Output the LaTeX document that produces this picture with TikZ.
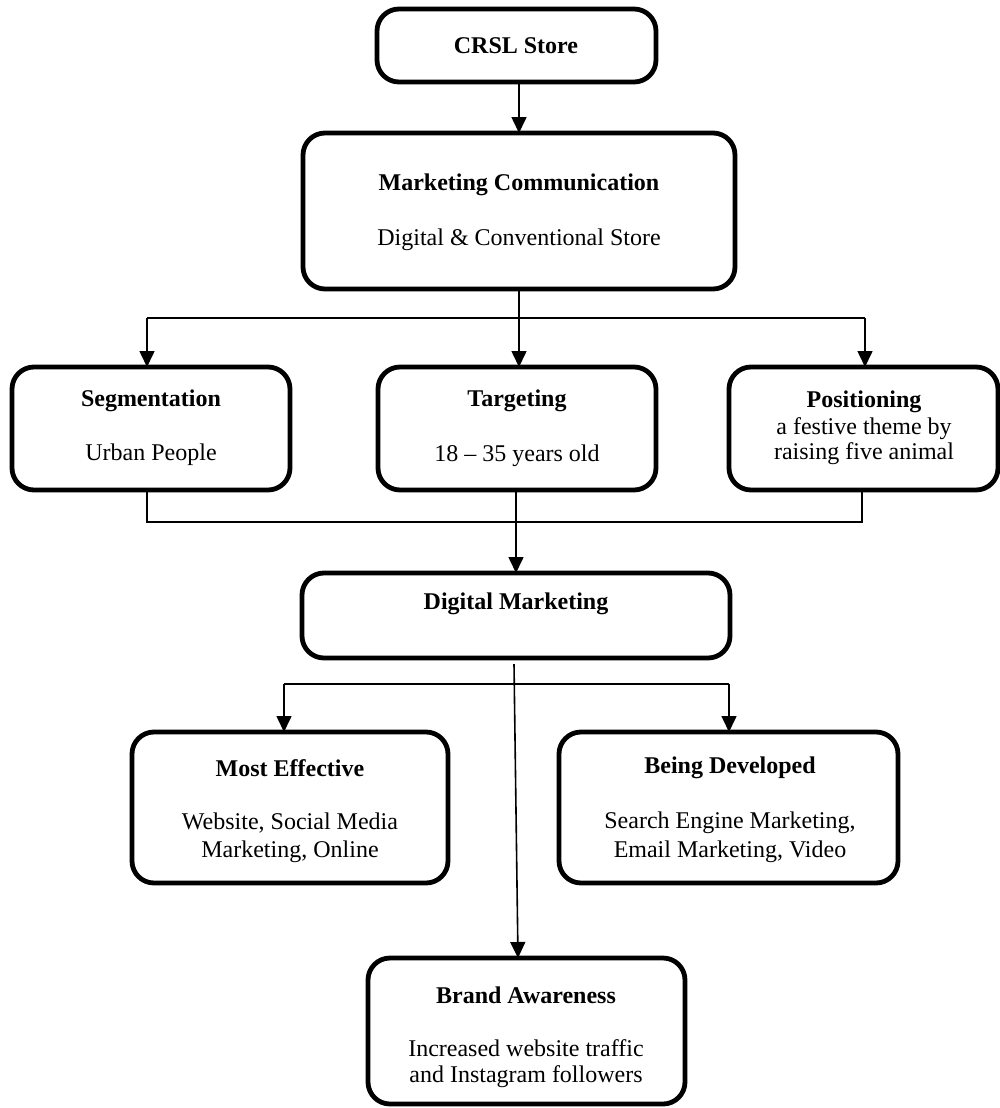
\documentclass[tikz,border=0pt]{standalone}
\usepackage{fontspec}
\setmainfont{Liberation Serif}
\usetikzlibrary{arrows.meta}
\begin{document}
\begin{tikzpicture}[x=0.5pt,y=-0.5pt,
  box/.style={draw=black,line width=2.4pt,rounded corners=11pt,inner sep=0pt,outer sep=0pt,fill=none},
  ttl/.style={font=\fontsize{12}{14}\selectfont\bfseries,inner sep=0pt},
  txt/.style={font=\fontsize{12}{14}\selectfont,inner sep=0pt},
  conn/.style={line width=0.8pt},
  arr/.style={line width=0.8pt,-{Triangle[width=7.5pt,length=8pt]}}]
\useasboundingbox (0,0) rectangle (1000,1108);
% boxes
\node[box,minimum width=139.5pt,minimum height=36.5pt] (crsl) at (516.5,45.5) {};
\node[box,minimum width=216pt,minimum height=78pt] (mc) at (519,211) {};
\node[box,minimum width=139pt,minimum height=61.5pt] (seg) at (151,428.5) {};
\node[box,minimum width=139pt,minimum height=61.5pt] (tar) at (517,428.5) {};
\node[box,minimum width=134.5pt,minimum height=61.5pt] (pos) at (863.5,428.5) {};
\node[box,minimum width=214pt,minimum height=42.5pt] (dm) at (516,615.5) {};
\node[box,minimum width=158pt,minimum height=75.5pt] (me) at (290,807.5) {};
\node[box,minimum width=169.5pt,minimum height=75.5pt] (bd) at (728.5,807.5) {};
\node[box,minimum width=158.5pt,minimum height=73pt] (ba) at (526.5,1031) {};
% texts
\node[ttl] (t1) at (516,46) {CRSL Store};
\node[ttl] (t2) at (519,185) {Marketing Communication};
\node[txt] (t3) at (519,240) {Digital \& Conventional Store};
\node[ttl] (t4) at (151,401) {Segmentation};
\node[txt] (t5) at (151,455) {Urban People};
\node[ttl] (t6) at (517,401) {Targeting};
\node[txt] (t7) at (517,456) {18 -- 35 years old};
\node[ttl] (t8) at (864,402) {Positioning};
\node[txt] (t9) at (864,429) {a festive theme by};
\node[txt] (t10) at (864,454) {raising five animal};
\node[ttl] (t11) at (516,604) {Digital Marketing};
\node[ttl] (t12) at (290,768) {Most Effective};
\node[txt] (t13) at (290,823) {Website, Social Media};
\node[txt] (t14) at (290,852) {Marketing, Online};
\node[ttl] (t15) at (730,768) {Being Developed};
\node[txt] (t16) at (730,823) {Search Engine Marketing,};
\node[txt] (t17) at (730,852) {Email Marketing, Video};
\node[ttl] (t18) at (526,995) {Brand Awareness};
\node[txt] (t19) at (526,1048) {Increased website traffic};
\node[txt] (t20) at (526,1077) {and Instagram followers};
% connector points
\coordinate (hl) at (147,318);
\coordinate (hr) at (865,318);
\coordinate (bl) at (147,522);
\coordinate (br) at (862,522);
\coordinate (ml) at (284,684);
\coordinate (mr) at (729,684);
\coordinate (dmo) at (514,664);
\coordinate (bat) at (518,958);
% connectors
\draw[arr] (crsl.south -| 519,0) -- (mc.north -| 519,0);
\draw[arr] (mc.south -| 519,0) -- (tar.north -| 519,0);
\draw[conn] (hl) -- (hr);
\draw[arr] (hl) -- (hl |- seg.north);
\draw[arr] (hr) -- (hr |- pos.north);
\draw[conn] (bl |- seg.south) -- (bl) -- (br) -- (br |- pos.south);
\draw[arr] (tar.south -| 516,0) -- (dm.north -| 516,0);
\draw[conn] (ml) -- (mr);
\draw[arr] (ml) -- (ml |- me.north);
\draw[arr] (mr) -- (mr |- bd.north);
\draw[arr] (dmo) -- (bat |- ba.north);
\end{tikzpicture}
\end{document}
